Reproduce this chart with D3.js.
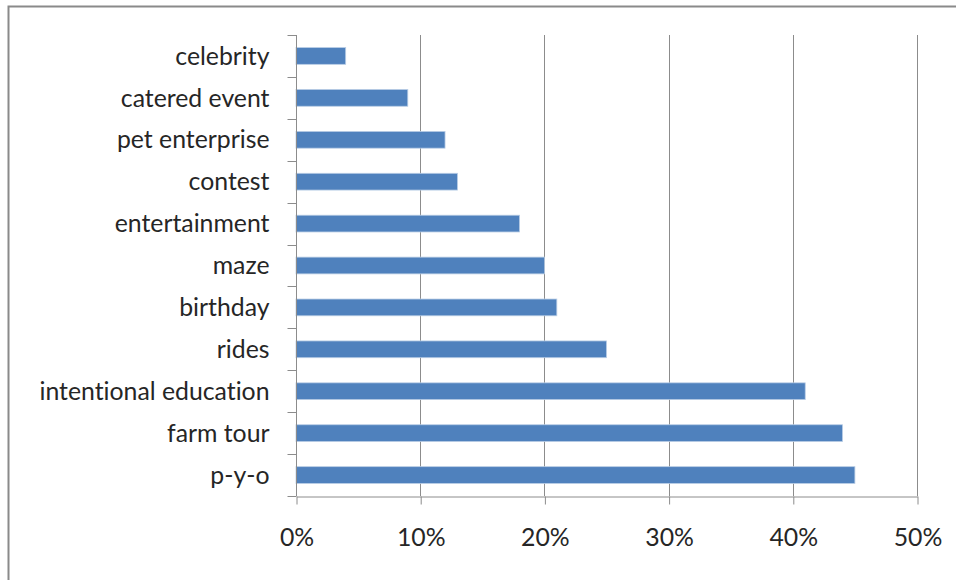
<!DOCTYPE html>
<html>
<head>
<meta charset="utf-8">
<script src="https://cdn.jsdelivr.net/npm/d3@7"></script>
<style>
  html, body { margin: 0; padding: 0; background: #fff; }
  svg { display: block; }
  text { font-variant-ligatures: none; font-feature-settings: "liga" 0; }
</style>
</head>
<body>
<svg id="chart" width="956" height="580"></svg>
<script>
// Share of farms offering each agritourism activity
const categories = ["celebrity", "catered event", "pet enterprise", "contest", "entertainment",
  "maze", "birthday", "rides", "intentional education", "farm tour", "p-y-o"];
const values = [4, 9, 12, 13, 18, 20, 21, 25, 41, 44, 45];
const xTicks = [0, 10, 20, 30, 40, 50];

const svg = d3.select("#chart");
const W = 956, H = 580;
const margin = { left: 296, right: 956 - 917, top: 35, bottom: 580 - 496 };

// Outer chart frame
svg.append("rect")
  .attr("x", 8.5).attr("y", 6.5)
  .attr("width", W + 20).attr("height", H + 20)
  .attr("fill", "#fff")
  .attr("stroke", "#8a8a8a").attr("stroke-width", 2);

const x = d3.scaleLinear().domain([0, 50]).range([margin.left, W - margin.right]);
const y = d3.scaleBand().domain(categories)
  .range([margin.top, H - margin.bottom])
  .paddingInner(0.6).paddingOuter(0.3);

const font = "Lato, 'Open Sans', sans-serif";
const fontSize = 24.8;
const textColor = "#262626";

// Vertical gridlines
svg.append("g").selectAll("line")
  .data(xTicks.slice(1))
  .join("line")
  .attr("x1", d => Math.round(x(d)) + 0.5).attr("x2", d => Math.round(x(d)) + 0.5)
  .attr("y1", margin.top).attr("y2", H - margin.bottom)
  .attr("stroke", "#8c8c8c").attr("stroke-width", 1);

// Bars
svg.append("g").selectAll("rect")
  .data(values)
  .join("rect")
  .attr("x", x(0))
  .attr("y", (d, i) => y(categories[i]))
  .attr("width", d => x(d) - x(0))
  .attr("height", y.bandwidth())
  .attr("fill", "#4f81bd")
  .attr("stroke", "#b9cde5").attr("stroke-width", 0.8);

// X axis
const xAxis = d3.axisBottom(x).tickValues(xTicks).tickFormat(d => d + "%")
  .tickSizeInner(8).tickSizeOuter(0);
const gx = svg.append("g")
  .attr("transform", `translate(0.5,${H - margin.bottom + 0.5})`)
  .call(xAxis);
gx.select(".domain").attr("stroke", "#8c8c8c");
gx.selectAll(".tick line").attr("stroke", "#8c8c8c");
gx.selectAll("text")
  .attr("y", 49.5).attr("dy", 0)
  .attr("font-family", font).attr("font-size", fontSize).attr("fill", textColor);

// Y axis: category labels, ticks at band boundaries
const gy = svg.append("g").attr("transform", `translate(${margin.left + 0.5},0)`);
gy.append("line")
  .attr("y1", margin.top).attr("y2", H - margin.bottom)
  .attr("stroke", "#8c8c8c");
const bounds = d3.range(categories.length + 1).map(i => margin.top + i * (H - margin.top - margin.bottom) / categories.length);
gy.selectAll("line.tick")
  .data(bounds)
  .join("line")
  .attr("class", "tick")
  .attr("x1", -9).attr("x2", 0)
  .attr("y1", d => Math.round(d) + 0.5).attr("y2", d => Math.round(d) + 0.5)
  .attr("stroke", "#8c8c8c");
gy.selectAll("text")
  .data(categories)
  .join("text")
  .attr("x", -27)
  .attr("y", d => y(d) + y.bandwidth() / 2)
  .attr("dy", "0.35em")
  .attr("text-anchor", "end")
  .attr("font-family", font).attr("font-size", fontSize).attr("fill", textColor)
  .text(d => d);
</script>
</body>
</html>
